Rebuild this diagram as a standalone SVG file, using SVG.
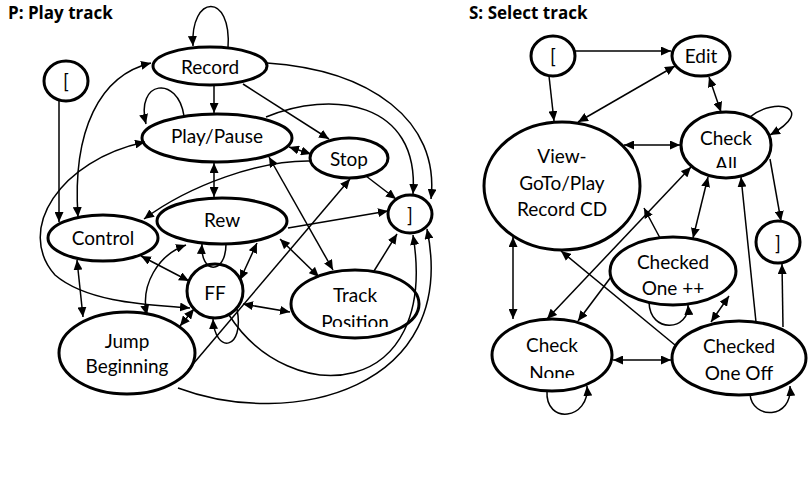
<svg xmlns="http://www.w3.org/2000/svg" width="809" height="478" viewBox="0 0 809 478">
<style>
.n{fill:#fff;stroke:#000;stroke-width:3}
.t{font-family:Lato,"Liberation Sans",sans-serif;font-size:19px;text-anchor:middle;fill:#000}
.h{font-family:"Open Sans","Liberation Sans",sans-serif;font-size:17px;font-weight:bold;fill:#000}
.c path{fill:none;stroke:#000;stroke-width:1.5}
.e{marker-end:url(#a)}
.b{marker-start:url(#a);marker-end:url(#a)}
</style>
<defs>
<marker id="a" viewBox="0 0 10 9" refX="10" refY="4.5" markerWidth="10" markerHeight="9" markerUnits="userSpaceOnUse" orient="auto-start-reverse"><path d="M0,0 L10,4.5 L0,9 z" fill="#000"/></marker>
<clipPath id="clTrack"><rect x="280" y="260" width="160" height="67"/></clipPath>
<clipPath id="clAll"><rect x="670" y="100" width="120" height="68"/></clipPath>
<clipPath id="clNone"><rect x="480" y="310" width="150" height="68"/></clipPath>
</defs>
<rect width="809" height="478" fill="#fff"/>
<text class="h" x="8" y="19">P: Play track</text>
<text class="h" x="469" y="19">S: Select track</text>

<g id="nodes-left">
<g id="startL"><ellipse class="n" cx="66" cy="81" rx="22" ry="20"/><text class="t" x="66" y="88">[</text></g>
<g id="record"><ellipse class="n" cx="210" cy="66" rx="57" ry="19"/><text class="t" x="210" y="74">Record</text></g>
<g id="playpause"><ellipse class="n" cx="217" cy="138" rx="75" ry="24"/><text class="t" x="217" y="143">Play/Pause</text></g>
<g id="stop"><ellipse class="n" cx="349" cy="158" rx="39" ry="20"/><text class="t" x="349" y="166">Stop</text></g>
<g id="endL"><ellipse class="n" cx="410" cy="214" rx="22" ry="19"/><text class="t" x="410" y="222">]</text></g>
<g id="rew"><ellipse class="n" cx="222" cy="221" rx="65" ry="23"/><text class="t" x="222" y="227">Rew</text></g>
<g id="control"><ellipse class="n" cx="103" cy="238" rx="55" ry="23"/><text class="t" x="103" y="245">Control</text></g>
<g id="ff"><ellipse class="n" cx="215" cy="291" rx="28" ry="27"/><text class="t" x="215" y="300">FF</text></g>
<g id="trackpos"><ellipse class="n" cx="355" cy="304" rx="64" ry="34"/><text class="t" x="355" y="302">Track</text><text class="t" x="355" y="329" clip-path="url(#clTrack)">Position</text></g>
<g id="jump"><ellipse class="n" cx="127" cy="353" rx="68" ry="41"/><text class="t" x="127" y="348">Jump</text><text class="t" x="127" y="373">Beginning</text></g>
</g>

<g id="nodes-right">
<g id="startR"><ellipse class="n" cx="553" cy="56" rx="22" ry="20"/><text class="t" x="553" y="63">[</text></g>
<g id="edit"><ellipse class="n" cx="701" cy="56" rx="29" ry="20"/><text class="t" x="701" y="63">Edit</text></g>
<g id="view"><ellipse class="n" cx="562" cy="186" rx="78" ry="64"/><text class="t" x="562" y="163">View-</text><text class="t" x="562" y="190">GoTo/Play</text><text class="t" x="562" y="216">Record CD</text></g>
<g id="checkall"><ellipse class="n" cx="726" cy="145" rx="45" ry="33"/><text class="t" x="726" y="145">Check</text><text class="t" x="726" y="171" clip-path="url(#clAll)">All</text></g>
<g id="endR"><ellipse class="n" cx="778" cy="242" rx="22" ry="21"/><text class="t" x="778" y="250">]</text></g>
<g id="oneplus"><ellipse class="n" cx="673" cy="271" rx="63" ry="34"/><text class="t" x="673" y="269">Checked</text><text class="t" x="673" y="295">One ++</text></g>
<g id="checknone"><ellipse class="n" cx="552" cy="355" rx="60" ry="36"/><text class="t" x="552" y="352">Check</text><text class="t" x="552" y="380" clip-path="url(#clNone)">None</text></g>
<g id="oneoff"><ellipse class="n" cx="739" cy="358" rx="67" ry="37"/><text class="t" x="739" y="353">Checked</text><text class="t" x="739" y="380">One Off</text></g>
</g>

<g id="connectors" class="c">
<path class="e" d="M228,48 C232,-8 190,-6 193,46"/>
<path class="e" d="M59,101 L59,222"/>
<path class="b" d="M78,217 C72,130 100,75 151,63"/>
<path class="e" d="M214,85 L214,113"/>
<path class="e" d="M184,116 C178,75 135,80 146,124"/>
<path class="b" d="M145,142 C60,160 15,230 55,275 C90,305 160,305 190,308"/>
<path class="b" d="M214,163 L214,197"/>
<path class="b" d="M289,147 L311,154"/>
<path class="e" d="M243,84 L329,139"/>
<path class="e" d="M267,63 C370,70 440,120 431,199"/>
<path class="e" d="M266,117 C330,90 420,100 413,194"/>
<path class="e" d="M366,176 L396,199"/>
<path class="e" d="M311,161 C260,160 190,185 144,219"/>
<path class="b" d="M269,157 L333,270"/>
<path class="e" d="M188,370 L350,179"/>
<path class="e" d="M288,228 L388,211"/>
<path class="e" d="M374,271 L397,234"/>
<path class="b" d="M280,239 L319,277"/>
<path class="b" d="M257,243 L240,280"/>
<path class="e" d="M226,244 C226,275 200,275 202,244"/>
<path class="b" d="M141,256 L189,281"/>
<path class="b" d="M77,260 L83,317"/>
<path class="b" d="M147,315 C140,285 158,255 186,245"/>
<path class="b" d="M180,326 L194,309"/>
<path class="e" d="M237,309 C245,350 215,355 213,319"/>
<path class="b" d="M243,304 L290,312"/>
<path class="e" d="M229,315 C290,410 440,400 413,235"/>
<path class="e" d="M178,388 C290,430 460,390 427,229"/>

<path class="e" d="M575,51 L671,51"/>
<path class="e" d="M549,76 L554,121"/>
<path class="b" d="M675,66 L578,122"/>
<path class="b" d="M709,77 L721,112"/>
<path class="e" d="M750,117 C775,96 818,108 770,135"/>
<path class="b" d="M624,145 L680,145"/>
<path class="e" d="M770,159 L781,221"/>
<path class="b" d="M513,237 L513,319"/>
<path class="b" d="M547,319 L691,167"/>
<path class="e" d="M611,277 L578,321"/>
<path class="e" d="M660,238 L644,208"/>
<path class="b" d="M693,238 L708,177"/>
<path class="e" d="M649,302 C650,335 690,330 688,305"/>
<path class="b" d="M729,296 L711,322"/>
<path class="e" d="M756,322 L741,177"/>
<path class="e" d="M783,327 L782,264"/>
<path class="e" d="M675,345 L561,251"/>
<path class="b" d="M613,360 L671,360"/>
<path class="e" d="M547,391 C545,425 590,420 587,386"/>
<path class="e" d="M750,394 C752,420 793,420 790,386"/>
</g>
</svg>
